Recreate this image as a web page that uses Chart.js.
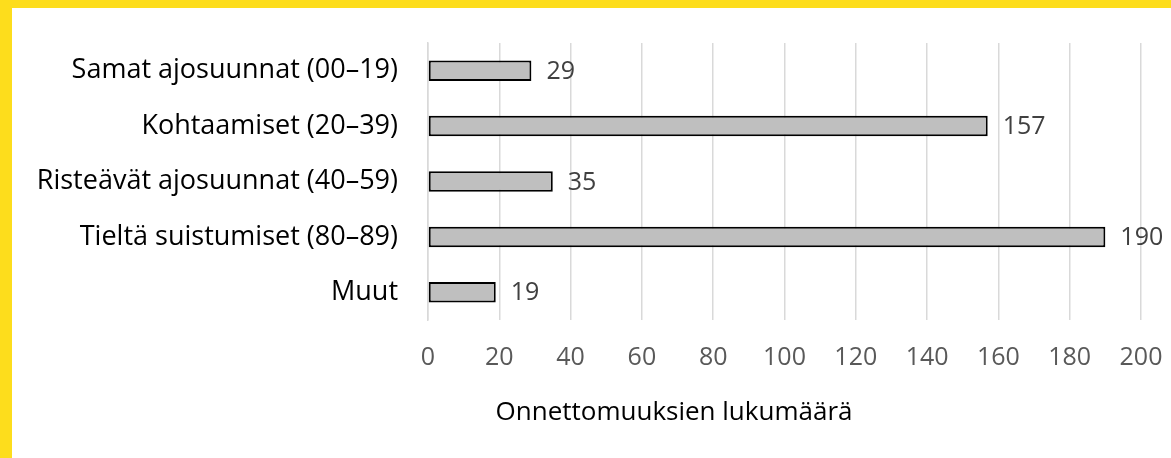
<!DOCTYPE html>
<html>
<head>
<meta charset="utf-8">
<script src="https://cdn.jsdelivr.net/npm/chart.js@4"></script>
<style>
  html, body { margin: 0; padding: 0; background: #fff; }
  #wrap {
    width: 1159px; height: 450px;
    border-top: 8px solid #FDDD1C;
    border-left: 12px solid #FDDD1C;
    background: #fff;
  }
</style>
</head>
<body>
<div id="wrap"><canvas id="chart" width="1159" height="450"></canvas></div>
<script>
var categories = [
  "Samat ajosuunnat (00\u201319)",
  "Kohtaamiset (20\u201339)",
  "Riste\u00e4v\u00e4t ajosuunnat (40\u201359)",
  "Tielt\u00e4 suistumiset (80\u201389)",
  "Muut"
];
var accidents = [29, 157, 35, 190, 19];
var xTicks = [0, 20, 40, 60, 80, 100, 120, 140, 160, 180, 200];
var xTitle = "Onnettomuuksien lukum\u00e4\u00e4r\u00e4";

var FONT = "'Open Sans', 'Noto Sans', sans-serif";

// value labels next to the bars
var valueLabels = {
  id: "valueLabels",
  afterDatasetsDraw: function(chart) {
    var ctx = chart.ctx;
    var meta = chart.getDatasetMeta(0);
    ctx.save();
    ctx.font = "25px " + FONT;
    ctx.fillStyle = "#404040";
    ctx.textAlign = "left";
    ctx.textBaseline = "middle";
    meta.data.forEach(function(bar, i) {
      ctx.fillText(accidents[i], bar.x + 15, bar.y + 1);
    });
    ctx.restore();
  }
};

// axis title (sits left of the plot centre like in the original)
var axisTitle = {
  id: "axisTitle",
  afterDraw: function(chart) {
    var ctx = chart.ctx;
    var area = chart.chartArea;
    ctx.save();
    ctx.font = "26px " + FONT;
    ctx.fillStyle = "#000";
    ctx.textAlign = "center";
    ctx.textBaseline = "middle";
    ctx.fillText(xTitle, area.left + 246, area.bottom + 93);
    ctx.restore();
  }
};

new Chart("chart", {
  type: "bar",
  data: {
    labels: categories,
    datasets: [{
      data: accidents,
      backgroundColor: "#BFBFBF",
      borderColor: "#000",
      borderWidth: 2,
      borderSkipped: false,
      barPercentage: 0.37,
      categoryPercentage: 1
    }]
  },
  options: {
    indexAxis: "y",
    responsive: false,
    animation: false,
    events: [],
    layout: { padding: { top: 35, right: 30, bottom: 0, left: 0 } },
    plugins: {
      legend: { display: false },
      tooltip: { enabled: false }
    },
    scales: {
      x: {
        min: 0,
        max: 200,
        afterBuildTicks: function(scale) {
          scale.ticks = xTicks.map(function(v) { return { value: v }; });
        },
        afterFit: function(scale) {
          scale.height = 138;
          scale.paddingLeft = 0;
          scale.paddingRight = 0;
        },
        grid: { color: "#D9D9D9", lineWidth: 1.5, drawTicks: false },
        border: { display: false },
        ticks: {
          color: "#595959",
          padding: 23,
          font: { family: FONT, size: 25 }
        }
      },
      y: {
        afterFit: function(scale) {
          scale.width = 416;
          scale.paddingTop = 0;
          scale.paddingBottom = 0;
        },
        grid: { display: false, drawTicks: false },
        border: { color: "#D9D9D9", width: 1.5 },
        ticks: {
          color: "#000",
          padding: 30,
          font: { family: FONT, size: 27 }
        }
      }
    }
  },
  plugins: [valueLabels, axisTitle]
});
</script>
</body>
</html>
